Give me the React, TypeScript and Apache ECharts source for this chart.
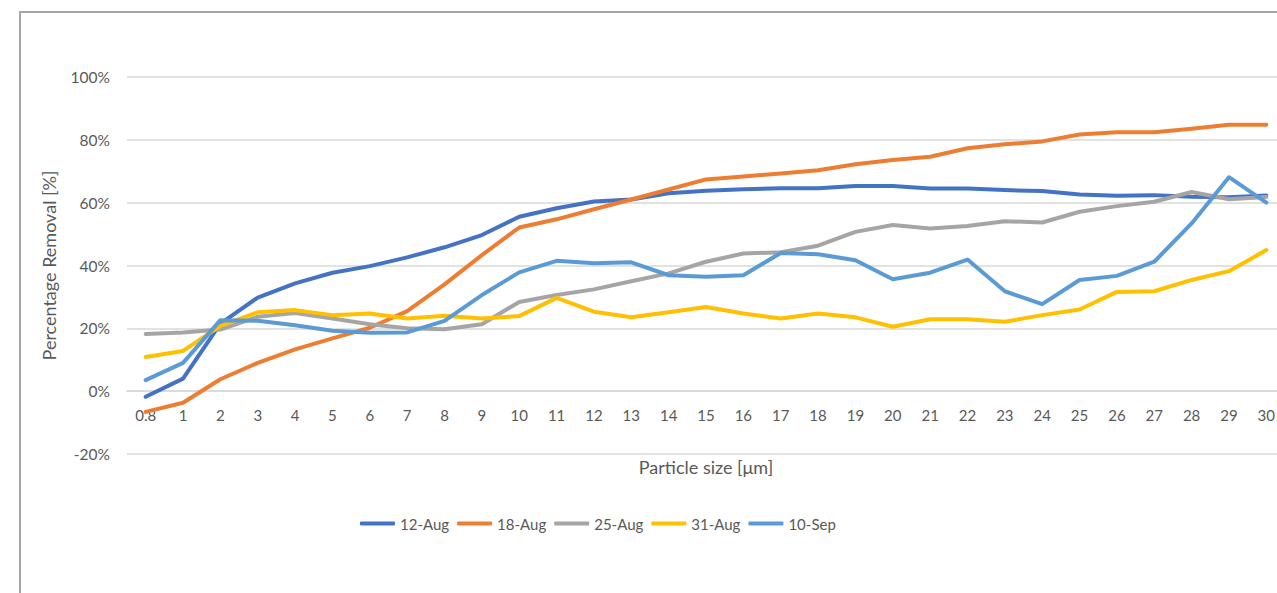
import React, { useEffect, useRef } from "react";
import * as echarts from "echarts";

const categories = ["0.8", "1", "2", "3", "4", "5", "6", "7", "8", "9", "10", "11", "12", "13", "14", "15", "16", "17", "18", "19", "20", "21", "22", "23", "24", "25", "26", "27", "28", "29", "30"];

const aug12 = [-1.8, 4.0, 21.5, 29.8, 34.3, 37.7, 39.8, 42.6, 45.8, 49.7, 55.5, 58.2, 60.4, 61.0, 63.0, 63.8, 64.3, 64.6, 64.6, 65.3, 65.3, 64.5, 64.5, 64.0, 63.7, 62.6, 62.2, 62.4, 61.9, 61.7, 62.3];
const aug18 = [-6.6, -3.7, 3.8, 9.0, 13.3, 16.8, 20.2, 25.5, 34.0, 43.3, 52.1, 54.7, 57.9, 61.0, 64.2, 67.4, 68.3, 69.3, 70.3, 72.2, 73.6, 74.6, 77.3, 78.6, 79.5, 81.7, 82.4, 82.4, 83.5, 84.8, 84.8];
const aug25 = [18.2, 18.7, 19.6, 23.7, 24.9, 23.1, 21.3, 20.0, 19.7, 21.3, 28.4, 30.6, 32.4, 35.0, 37.5, 41.2, 43.8, 44.2, 46.3, 50.7, 52.9, 51.8, 52.6, 54.1, 53.7, 57.1, 58.9, 60.3, 63.4, 61.1, 61.8];
const aug31 = [10.9, 12.8, 20.8, 25.1, 25.8, 24.2, 24.7, 23.1, 24.0, 23.1, 23.9, 29.7, 25.3, 23.5, 25.1, 26.8, 24.7, 23.1, 24.7, 23.5, 20.5, 22.9, 22.9, 22.1, 24.2, 26.0, 31.6, 31.8, 35.4, 38.2, 44.9];
const sep10 = [3.5, 9.0, 22.6, 22.4, 21.0, 19.2, 18.6, 18.7, 22.4, 30.6, 37.8, 41.5, 40.7, 41.0, 36.9, 36.4, 36.9, 44.0, 43.6, 41.7, 35.6, 37.7, 41.9, 31.8, 27.7, 35.4, 36.7, 41.2, 53.4, 68.1, 60.0];

const seriesNames = ["12-Aug", "18-Aug", "25-Aug", "31-Aug", "10-Sep"];
const seriesData = [aug12, aug18, aug25, aug31, sep10];
const seriesColors = ["#4472C4", "#ED7D31", "#A5A5A5", "#FFC000", "#5B9BD5"];

const FONT = "Lato, 'Noto Sans', sans-serif";

export default function App() {
  const ref = useRef<HTMLDivElement>(null);
  useEffect(() => {
    if (!ref.current) return;
    const chart = echarts.init(ref.current, null, { renderer: "svg" });
    chart.setOption({
      animation: false,
      backgroundColor: "#ffffff",
      textStyle: { fontFamily: FONT },
      graphic: [
        {
          type: "rect",
          shape: { x: 20, y: 12, width: 1300, height: 700 },
          style: { fill: "none", stroke: "#A6A6A6", lineWidth: 2 },
          silent: true,
        },
      ],
      grid: { left: 127, top: 77, width: 1158, height: 377, containLabel: false, outerBoundsMode: "none" },
      legend: {
        data: seriesNames,
        top: 516,
        left: 360,
        padding: 0,
        icon: "roundRect",
        itemWidth: 35,
        itemHeight: 4,
        itemGap: 8,
        textStyle: { color: "#595959", fontSize: 15, fontFamily: FONT },
      },
      xAxis: {
        type: "category",
        data: categories,
        boundaryGap: true,
        position: "bottom",
        offset: -63,
        name: "Particle size [\u03bcm]",
        nameLocation: "middle",
        nameGap: 67,
        nameTextStyle: { color: "#595959", fontSize: 18, fontFamily: FONT },
        axisLine: { show: true, onZero: false, lineStyle: { color: "#D9D9D9", width: 1.5 } },
        axisTick: { show: false },
        axisLabel: { color: "#595959", fontSize: 15, margin: 16, interval: 0, fontFamily: FONT },
        splitLine: { show: false },
      },
      yAxis: {
        type: "value",
        min: -20,
        max: 100,
        interval: 20,
        name: "Percentage Removal [%]",
        nameLocation: "middle",
        nameGap: 69,
        nameRotate: 90,
        nameTextStyle: { color: "#595959", fontSize: 18, fontFamily: FONT },
        axisLine: { show: false },
        axisTick: { show: false },
        axisLabel: { color: "#595959", fontSize: 15.5, margin: 17, formatter: "{value}%", fontFamily: FONT },
        splitLine: { show: true, lineStyle: { color: "#D9D9D9", width: 1.5 } },
      },
      series: seriesNames.map((name, i) => ({
        name,
        type: "line",
        data: seriesData[i],
        symbol: "none",
        smooth: false,
        color: seriesColors[i],
        lineStyle: { color: seriesColors[i], width: 4, cap: "round", join: "round" },
      })),
    });
    return () => chart.dispose();
  }, []);
  return (
    <div
      ref={ref}
      style={{ position: "absolute", left: 0, top: 0, width: 1277, height: 593 }}
    />
  );
}
